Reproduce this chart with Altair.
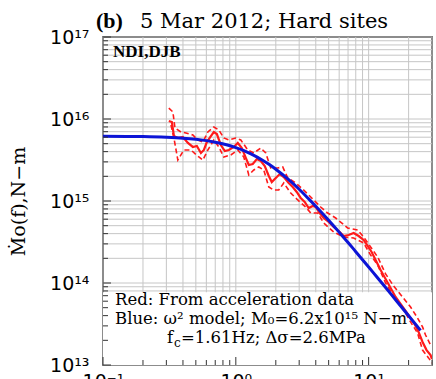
import altair as alt
import pandas as pd

# ---- data ----
# Red solid: spectrum from acceleration data (frequency Hz, moment N-m)
red_f = [0.313, 0.330, 0.342, 0.366, 0.399, 0.436, 0.475, 0.509, 0.546, 0.575, 0.605, 0.649, 0.683,
         0.720, 0.771, 0.827, 0.886, 0.966, 1.035, 1.110, 1.189, 1.252, 1.342, 1.439, 1.542, 1.652,
         1.771, 1.865, 1.999, 2.142, 2.296, 2.503, 2.683, 2.875, 3.081, 3.302, 3.539, 3.793, 3.995,
         4.281, 4.588, 5.003, 5.456, 5.949, 6.487, 7.073, 7.713, 8.410, 9.171, 9.829, 10.53, 11.29,
         12.31, 13.42, 14.64, 15.96, 17.40, 18.98, 20.69, 22.18, 23.76, 25.47, 27.30, 29.26, 30.0]
red_m = [9.45e15, 9.19e15, 6.20e15, 5.87e15, 6.03e15, 5.10e15, 4.56e15, 4.69e15, 3.85e15, 4.19e15,
         5.24e15, 6.20e15, 6.94e15, 6.56e15, 4.82e15, 4.07e15, 4.19e15, 4.56e15, 5.10e15, 4.43e15,
         3.35e15, 2.75e15, 2.83e15, 3.25e15, 3.07e15, 2.67e15, 2.02e15, 1.70e15, 1.91e15, 2.13e15,
         1.96e15, 1.66e15, 1.48e15, 1.29e15, 1.09e15, 9.72e14, 8.21e14, 8.69e14, 8.45e14, 7.14e14,
         6.20e14, 5.55e14, 4.82e14, 4.31e14, 3.74e14, 3.85e14, 4.07e14, 3.74e14, 3.35e14, 2.83e14,
         2.39e14, 1.91e14, 1.44e14, 1.12e14, 8.69e13, 6.75e13, 5.55e13, 4.56e13, 3.74e13, 3.16e13,
         2.53e13, 1.91e13, 1.52e13, 1.32e13, 1.18e13]

# Red dashed: upper bound
up_f = [0.313, 0.336, 0.348, 0.386, 0.421, 0.475, 0.518, 0.565, 0.616, 0.683, 0.745, 0.812, 0.886,
        1.0, 1.090, 1.231, 1.366, 1.542, 1.681, 1.833, 2.070, 2.256, 2.460, 2.825, 3.245, 3.664,
        4.356, 4.917, 5.648, 6.953, 8.266, 9.171, 10.35, 11.69, 13.42, 15.42, 18.01, 20.69, 23.35,
        25.47, 26.83, 29.26]
up_m = [1.36e16, 1.22e16, 7.77e15, 6.94e15, 6.75e15, 6.38e15, 5.55e15, 5.24e15, 6.94e15, 7.99e15,
        7.34e15, 5.87e15, 5.55e15, 5.87e15, 5.55e15, 4.19e15, 3.85e15, 4.43e15, 3.85e15, 2.53e15,
        2.53e15, 2.60e15, 1.91e15, 1.66e15, 1.36e15, 1.12e15, 8.45e14, 7.14e14, 6.20e14, 4.69e14,
        4.43e14, 3.64e14, 2.75e14, 2.08e14, 1.29e14, 9.19e13, 6.75e13, 5.10e13, 3.74e13, 2.91e13,
        2.32e13, 1.75e13]

# Red dashed: lower bound
lo_f = [0.325, 0.342, 0.366, 0.406, 0.459, 0.527, 0.565, 0.616, 0.683, 0.745, 0.812, 0.917, 1.035,
        1.148, 1.252, 1.366, 1.489, 1.624, 1.771, 1.931, 2.105, 2.296, 2.591, 2.926, 3.360, 3.664,
        4.136, 4.588, 5.456, 6.487, 7.713, 9.171, 10.35, 11.69, 13.42, 15.42, 18.01, 20.69, 23.35,
        25.47, 28.26, 30.0]
lo_m = [8.45e15, 5.87e15, 3.16e15, 4.19e15, 4.19e15, 3.44e15, 3.16e15, 4.19e15, 5.55e15, 4.56e15,
        3.44e15, 3.64e15, 4.19e15, 3.44e15, 2.08e15, 2.39e15, 2.60e15, 2.39e15, 1.48e15, 1.36e15,
        1.36e15, 1.66e15, 1.25e15, 1.03e15, 8.45e14, 7.14e14, 7.14e14, 5.39e14, 4.19e14, 3.64e14,
        3.54e14, 3.07e14, 2.19e14, 1.66e14, 1.0e14, 6.94e13, 4.96e13, 3.35e13, 2.46e13, 1.52e13,
        1.22e13, 1.06e13]

# Blue: omega-squared model curve
blue_f = [0.1, 0.2, 0.3, 0.4, 0.5, 0.7, 0.85, 1.0, 1.15, 1.3, 1.6, 1.8, 2.0, 2.5, 3.0, 3.5, 4.0,
          5.0, 6.0, 7.0, 8.0, 10.0, 11.5, 13.0, 16.0, 20.0, 24.6]
blue_m = [6.18e15, 6.11e15, 5.99e15, 5.84e15, 5.65e15, 5.21e15, 4.85e15, 4.47e15, 4.11e15, 3.75e15,
          3.12e15, 2.76e15, 2.44e15, 1.82e15, 1.39e15, 1.08e15, 8.64e14, 5.82e14, 4.16e14, 3.12e14,
          2.41e14, 1.57e14, 1.19e14, 9.37e13, 6.21e13, 3.99e13, 2.64e13]

# Tick values
x_major = [0.1, 1.0, 10.0]
x_minor = [0.2, 0.3, 0.4, 0.5, 0.6, 0.7, 0.8, 0.9, 2.0, 3.0, 4.0, 5.0, 6.0, 7.0, 8.0, 9.0, 20.0, 30.0]
y_major = [1e13, 1e14, 1e15, 1e16, 1e17]
y_minor = [k * 10.0 ** e for e in range(13, 17) for k in range(2, 10)]

title_b = "(b)"
title_text = "5 Mar 2012; Hard sites"
station_text = "NDI,DJB"
note1 = "Red: From acceleration data"
note2 = "Blue: \u03c9\u00b2 model; M\u2080=6.2x10\u00b9\u2075 N\u2212m"
note3a = "f"
note3b = "c"
note3c = "=1.61Hz; \u0394\u03c3=2.6MPa"
y_title = "\u1e40o(f),N\u2212m"

W, H = 329, 328

red_df = pd.DataFrame({"f": red_f, "M": red_m})
up_df = pd.DataFrame({"f": up_f, "M": up_m})
lo_df = pd.DataFrame({"f": lo_f, "M": lo_m})
blue_df = pd.DataFrame({"f": blue_f, "M": blue_m})

xscale = alt.Scale(type="log", domain=[0.1, 30], nice=False)
yscale = alt.Scale(type="log", domain=[1e13, 1e17], nice=False)

x_label_expr = ("datum.value == 0.1 ? '10\u207b\u00b9' : datum.value == 1 ? '10\u2070' : "
                "datum.value == 10 ? '10\u00b9' : ''")
y_label_expr = ("datum.value == 1e13 ? '10\u00b9\u00b3' : datum.value == 1e14 ? '10\u00b9\u2074' : "
                "datum.value == 1e15 ? '10\u00b9\u2075' : datum.value == 1e16 ? '10\u00b9\u2076' : "
                "datum.value == 1e17 ? '10\u00b9\u2077' : ''")

grid_color = "#c6c6c6"

xaxis = alt.Axis(values=x_major, grid=False, ticks=False, domain=False, labelExpr=x_label_expr,
                 labelFont="DejaVu Sans", labelFontSize=19, labelPadding=7, labelFlush=False,
                 labelOverlap=False, labelColor="black", labelBaseline="top", title=None)
yaxis = alt.Axis(values=y_major, grid=False, ticks=False, domain=False, labelExpr=y_label_expr,
                 labelFont="DejaVu Sans", labelFontSize=19, labelPadding=14, labelFlush=False,
                 labelOverlap=False, labelColor="black", title=y_title, titleFont="DejaVu Serif",
                 titleFontSize=19, titleFontWeight="normal", titleColor="black", titleX=-79,
                 titleY=H / 2, titleAngle=270, titleAlign="center", titleBaseline="alphabetic")

X = alt.X("f:Q", scale=xscale, axis=xaxis)
Y = alt.Y("M:Q", scale=yscale, axis=yaxis)

# grid lines at every decade and sub-decade value
vgrid = alt.Chart(pd.DataFrame({"f": x_major + x_minor})).mark_rule(
    color=grid_color, strokeWidth=1, opacity=1).encode(x=X, y=alt.value(0), y2=alt.value(H))
hgrid = alt.Chart(pd.DataFrame({"M": y_major + y_minor})).mark_rule(
    color=grid_color, strokeWidth=1, opacity=1).encode(y=Y, x=alt.value(0), x2=alt.value(W))

# white box behind the legend text
box_df = pd.DataFrame({"f": [0.1], "f2": [30.0], "M": [1e13], "M2": [7.7e13]})
box = alt.Chart(box_df).mark_rect(color="white").encode(x=X, x2="f2:Q", y=Y, y2="M2:Q")

one = pd.DataFrame({"a": [0]})


def label(text, px, py, font="DejaVu Serif", size=16.5, weight="normal", align="left"):
    return alt.Chart(one).mark_text(text=text, font=font, fontSize=size, fontWeight=weight,
                                    align=align, baseline="alphabetic", color="black").encode(
        x=alt.value(px), y=alt.value(py))


notes = [
    label(note1, 12, 268),
    label(note2, 12, 287),
    label(note3a, 64, 306),
    label(note3b, 71, 310, size=12),
    label(note3c, 78, 306),
]

red_lo = alt.Chart(lo_df).mark_line(color="#ff1a1a", strokeWidth=1.6, strokeDash=[5, 3],
                                    clip=True).encode(x=X, y=Y)
red_up = alt.Chart(up_df).mark_line(color="#ff1a1a", strokeWidth=1.6, strokeDash=[5, 3],
                                    clip=True).encode(x=X, y=Y)
red = alt.Chart(red_df).mark_line(color="#ff1a1a", strokeWidth=2.2, clip=True).encode(x=X, y=Y)
blue = alt.Chart(blue_df).mark_line(color="#0c14d6", strokeWidth=3, interpolate="monotone",
                                    clip=True).encode(x=X, y=Y)

tick_col = "#333333"
ytick_major = alt.Chart(pd.DataFrame({"M": y_major})).mark_rule(color=tick_col, strokeWidth=1).encode(
    y=Y, x=alt.value(0), x2=alt.value(8))
ytick_minor = alt.Chart(pd.DataFrame({"M": y_minor})).mark_rule(color=tick_col, strokeWidth=1).encode(
    y=Y, x=alt.value(0), x2=alt.value(5))
xtick_major = alt.Chart(pd.DataFrame({"f": x_major})).mark_rule(color=tick_col, strokeWidth=1).encode(
    x=X, y=alt.value(H), y2=alt.value(H - 8))
xtick_minor = alt.Chart(pd.DataFrame({"f": x_minor})).mark_rule(color=tick_col, strokeWidth=1).encode(
    x=X, y=alt.value(H), y2=alt.value(H - 5))

station = label(station_text, 10, 20, font="Liberation Serif", size=17, weight="bold")
tb = label(title_b, -7, -9, font="Liberation Serif", size=22, weight="bold")
tt = label(title_text, 37, -9, font="DejaVu Serif", size=21)

chart = alt.layer(
    vgrid, hgrid, box, *notes, red_lo, red_up, red, blue,
    ytick_major, ytick_minor, xtick_major, xtick_minor,
    station, tb, tt,
).properties(
    width=W, height=H,
    autosize=alt.AutoSizeParams(type="none"),
    padding={"left": 103, "top": 37, "right": 4, "bottom": 14},
    background="white",
).configure_view(stroke="#1a1a1a", strokeWidth=1.5)

chart.save("out.html", embed_options={"renderer": "svg", "actions": False})
